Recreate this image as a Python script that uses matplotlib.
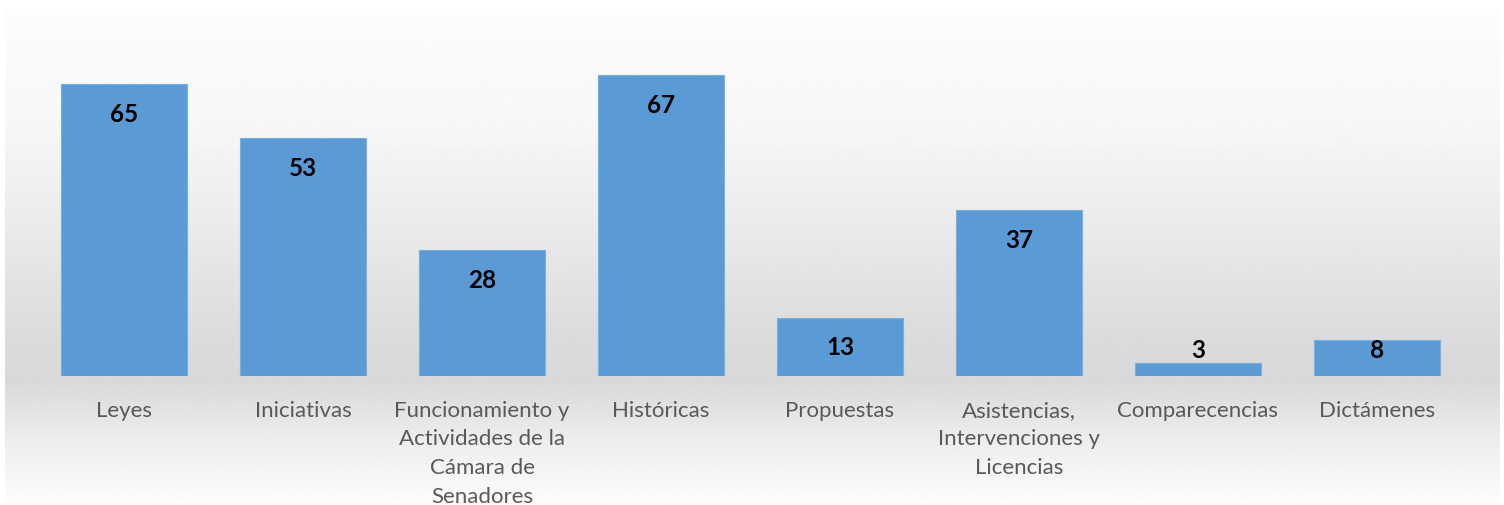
#%% Import libs
import numpy as np
import matplotlib.pyplot as plt

#%% Data
categories = ["Leyes", "Iniciativas", "Funcionamiento y\nActividades de la\nCámara de\nSenadores",
              "Históricas", "Propuestas", "Asistencias,\nIntervenciones y\nLicencias",
              "Comparecencias", "Dictámenes"]
values = [65, 53, 28, 67, 13, 37, 3, 8]

# background gradient stops (position from top, gray level)
grad_pos = [0.0, 0.22, 0.40, 0.55, 0.66, 0.75, 0.87, 1.0]
grad_val = [0.99, 0.97, 0.93, 0.89, 0.86, 0.85, 0.93, 0.99]

#%% Figure
fig = plt.figure(figsize=(15.04, 5.06), dpi=100)
plt.rcParams['font.family'] = ['Lato', 'DejaVu Sans']

# gradient background panel
bg = fig.add_axes([5 / 1504, 0, 1495 / 1504, 496 / 506])
bg.axis("off")
rows = np.linspace(0, 1, 400)
shade = np.interp(rows, grad_pos, grad_val)
bg.imshow(np.repeat(shade[:, None], 2, axis=1), cmap="gray", vmin=0, vmax=1,
          aspect="auto", extent=[0, 1, 0, 1], interpolation="bilinear")

#%% Bars
ax = fig.add_axes([34.5 / 1504, 129 / 506, 1432 / 1504, 314 / 506])
ax.patch.set_alpha(0)
x = np.arange(len(values))
ax.bar(x, values, width=0.705, color="#5b9bd5", edgecolor="#7aaee0", linewidth=0.8)
ax.set_xlim(-0.5, len(values) - 0.5)
ax.set_ylim(0, 70)

for xi, v in zip(x, values):
    y_lab = max(v - 6.5, 5.8)
    ax.text(xi, y_lab, str(v), ha="center", va="center", fontsize=17.5,
            fontweight="bold", color="black")

ax.set_xticks(x)
ax.set_xticklabels(categories, fontsize=16, color="#595959", linespacing=1.55, va="top")
ax.tick_params(axis="x", length=0, pad=17)
ax.set_yticks([])
for s in ax.spines.values():
    s.set_visible(False)

fig.savefig("out.png", dpi=100)
